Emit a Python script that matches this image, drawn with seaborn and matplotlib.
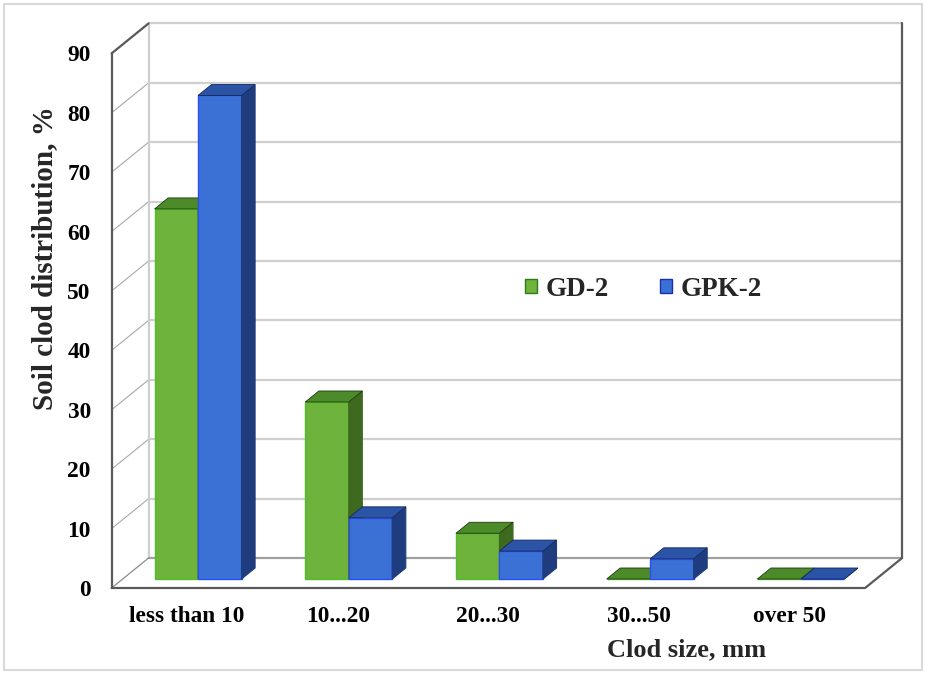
import matplotlib
matplotlib.use("Agg")
import matplotlib.pyplot as plt
import matplotlib.colors as mcolors
from matplotlib.patches import Polygon, Patch, Rectangle
import pandas as pd
import seaborn as sns

# Clod size classes and the share of clods in each class, %
categories = ["less than 10", "10...20", "20...30", "30...50", "over 50"]
series = ["GD-2", "GPK-2"]
gd2 = [62.3, 29.8, 7.7, 0.0, 0.0]
gpk2 = [81.4, 10.3, 4.7, 3.4, 0.0]
y_ticks = [0, 10, 20, 30, 40, 50, 60, 70, 80, 90]

front_colors = {"GD-2": "#6db33c", "GPK-2": "#3b71d5"}
top_colors = {"GD-2": "#4d8a2a", "GPK-2": "#2b53a6"}
side_colors = {"GD-2": "#3e6a1f", "GPK-2": "#1f3d7e"}
edge_colors = {"GD-2": "#52bd2c", "GPK-2": "#2a4ff0"}

df = pd.DataFrame({
    "size": categories * len(series),
    "series": [s for s in series for _ in categories],
    "value": gd2 + gpk2,
})

sns.set_style("white")
plt.rcParams["font.family"] = ["Liberation Serif", "DejaVu Serif"]
plt.rcParams["font.weight"] = "bold"

W, H = 926, 674
fig = plt.figure(figsize=(W / 100, H / 100), dpi=100)
# axes = front plane of the oblique box
ax = fig.add_axes([111.6 / W, (H - 588) / H, 753.5 / W, 534.6 / H])

sns.barplot(data=df, x="size", y="value", hue="series", hue_order=series,
            order=categories, palette=front_colors, width=0.577, gap=0,
            saturation=1, errorbar=None, legend=False, ax=ax)
ax.set_xlim(-0.5, 4.5)
ax.set_ylim(0, 90)
ax.set_yticks(y_ticks)
for s in ax.spines.values():
    s.set_visible(False)
ax.tick_params(axis="both", length=0, labelsize=16.8, colors="black")
ax.tick_params(axis="y", pad=15)
ax.tick_params(axis="x", pad=13)

# oblique depth: pixels of depth -> offset in data units
p0 = ax.transData.transform((0, 0))
p1 = ax.transData.transform((1, 1))
sx, sy = p1 - p0
SLOPE = 1.233


def depth(t):
    return SLOPE * t / sx, t / sy


xl, xr = -0.5, 4.5
bx, by = depth(30)

# back wall grid and side-wall diagonals
for v in y_ticks[1:]:
    ax.plot([xl + bx, xr + bx], [v + by, v + by], color="#cfcfcf", lw=1.6,
            zorder=0.5, clip_on=False, solid_capstyle="butt")
    ax.plot([xl, xl + bx], [v, v + by], color="#a8a8a8", lw=0.8,
            zorder=0.5, clip_on=False)
ax.plot([xl + bx] * 2, [by, 90 + by], color="#cfcfcf", lw=1.6, zorder=0.5, clip_on=False)
ax.plot([xl + bx, xr + bx], [by, by], color="#a0a0a0", lw=1.6, zorder=0.5, clip_on=False)
ax.plot([xl, xl + bx], [0, by], color="#8c8c8c", lw=0.9, zorder=0.6, clip_on=False)

dark = dict(color="#5a5a5a", lw=1.6, zorder=1, clip_on=False)
ax.plot([xl, xl], [0, 90], **dark)
ax.plot([xl, xl + bx], [90, 90 + by], **dark)
ax.plot([xr + bx] * 2, [by, 90 + by], **dark)
ax.plot([xl, xr, xr + bx], [0, 0, by], **dark)

# 3-D columns: move each front face back and add its top and side faces
fx, fy = depth(9)
dx, dy = depth(11)
rgba_to_series = {mcolors.to_rgba(c): s for s, c in front_colors.items()}
for p in list(ax.patches):
    fc = tuple(p.get_facecolor())
    key = min(rgba_to_series, key=lambda k: sum((a - b) ** 2 for a, b in zip(k, fc)))
    s = rgba_to_series[key]
    z = 2 + series.index(s)
    x0, y0 = p.get_x() + fx, p.get_y() + fy
    w, h = p.get_width(), p.get_height()
    p.set_x(x0)
    p.set_y(y0)
    p.set_edgecolor(edge_colors[s])
    p.set_linewidth(1.0)
    p.set_zorder(z)
    p.set_clip_on(False)
    top = [(x0, y0 + h), (x0 + w, y0 + h), (x0 + w + dx, y0 + h + dy), (x0 + dx, y0 + h + dy)]
    side = [(x0 + w, y0), (x0 + w + dx, y0 + dy), (x0 + w + dx, y0 + h + dy), (x0 + w, y0 + h)]
    ax.add_patch(Polygon(side, closed=True, facecolor=side_colors[s],
                         edgecolor=side_colors[s], lw=0.8, zorder=z, clip_on=False))
    ax.add_patch(Polygon(top, closed=True, facecolor=top_colors[s],
                         edgecolor="#1c3a10" if s == "GD-2" else "#14285a",
                         lw=0.6, zorder=z, clip_on=False))

ax.set_xlabel("Clod size, mm", fontsize=19, fontweight="bold", va="center")
ax.xaxis.set_label_coords(0.7637, -0.116)
ax.set_ylabel("Soil clod distribution, %", fontsize=21, fontweight="bold", va="center")
ax.yaxis.set_label_coords(-0.0884, 0.617)

handles = [Patch(facecolor=front_colors[s],
                 edgecolor="#2f7a1a" if s == "GD-2" else "#1a2fb0", lw=1.0)
           for s in series]
ax.legend(handles, series, loc="center left", bbox_to_anchor=(525 / W, 1 - 289 / H),
          bbox_transform=fig.transFigure, ncol=2, frameon=False,
          prop=dict(size=19.5, weight="bold"), handlelength=0.45, handleheight=0.42,
          handletextpad=0.3, columnspacing=1.9, borderpad=0, borderaxespad=0)

fig.patches.append(Rectangle((4 / W, 4 / H), 918 / W, 666 / H, transform=fig.transFigure,
                             fill=False, edgecolor="#d9d9d9", lw=1.5))

fig.savefig("out.png", dpi=100)
